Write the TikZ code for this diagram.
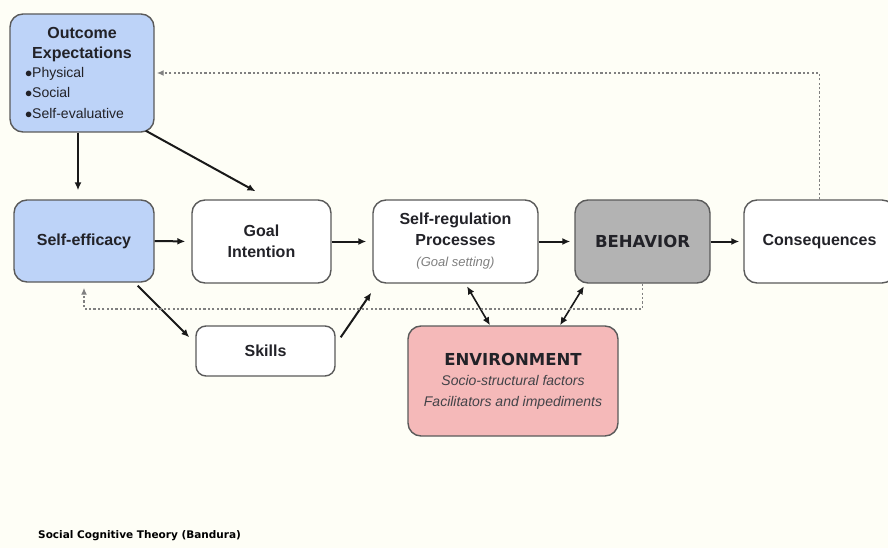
\documentclass[tikz,border=0pt]{standalone}
\usepackage{fontspec}
\setmainfont{Liberation Sans}
\newfontfamily\heavyfont{DejaVu Sans}
\usetikzlibrary{arrows.meta}
\definecolor{paper}{HTML}{FEFEF6}
\definecolor{boxblue}{HTML}{BDD3F8}
\definecolor{boxgray}{HTML}{B3B3B3}
\definecolor{boxpink}{HTML}{F5B9B9}
\definecolor{boxline}{HTML}{5A5A5A}
\definecolor{inkdark}{HTML}{222228}

\begin{document}
\begin{tikzpicture}[x=1pt,y=-1pt]
	\tikzstyle{box} = [draw=boxline, line width=1.4, rounded corners=13, fill=white, inner sep=0,
		align=center, text=inkdark, font=\fontsize{16}{21}\selectfont\bfseries]
	\tikzstyle{bluebox} = [box, fill=boxblue]
	\tikzstyle{arrow} = [draw=black!90, line width=2, -{Latex[length=8pt,width=7pt]}]
	\tikzstyle{twoway} = [draw=black!90, line width=1.6, {Latex[length=8pt,width=7pt]}-{Latex[length=8pt,width=7pt]}]
	\tikzstyle{loopback} = [draw=black!50, line width=1.8, dash pattern=on 2.2pt off 2.2pt, -{Latex[length=7pt,width=6pt]}]
	\fill[paper] (0,0) rectangle (888,548);
	\useasboundingbox (0,0) rectangle (888,548);
		\node[bluebox, minimum width=144, minimum height=118, text width=114, align=left] (outcome) at (82,73)
			{\makebox[\linewidth]{Outcome}\\[-1pt]\makebox[\linewidth]{Expectations}\\[-1pt]
			 \mdseries\fontsize{14}{20}\selectfont$\bullet$Physical\\$\bullet$Social\\$\bullet$Self-evaluative};
		\node[bluebox, minimum width=140, minimum height=82] (selfeff) at (84,241) {Self-efficacy};
		\node[box, minimum width=139, minimum height=83] (goal) at (261.5,241.5) {Goal\\Intention};
		\node[box, minimum width=165, minimum height=83] (selfreg) at (455.5,241.5)
			{Self-regulation\\Processes\\{\mdseries\itshape\color{gray}\fontsize{13}{16}\selectfont(Goal setting)}};
		\node[box, fill=boxgray, minimum width=135, minimum height=83, font=\fontsize{16.5}{20}\selectfont\heavyfont\bfseries] (behavior) at (642.5,241.5) {BEHAVIOR};
		\node[box, minimum width=151, minimum height=83] (conseq) at (819.5,241.5) {Consequences};
		\node[box, rounded corners=10, minimum width=139, minimum height=50] (skills) at (265.5,351) {Skills};
		\node[box, fill=boxpink, minimum width=210, minimum height=110, font=\fontsize{16.5}{21}\selectfont\heavyfont\bfseries] (env) at (513,381)
			{ENVIRONMENT\\[-1pt]{\normalfont\itshape\color{inkdark!85}\fontsize{14}{21}\selectfont Socio-structural factors}\\
			 {\normalfont\itshape\color{inkdark!85}\fontsize{14}{21}\selectfont Facilitators and impediments}};
		\node[anchor=base west, inner sep=0, text=black, font=\fontsize{10.5}{12}\selectfont\heavyfont\bfseries] (title) at (38,538)
			{Social Cognitive Theory (Bandura)};
	% forward paths
	\draw[arrow, shorten >=9] ([xshift=-4pt]outcome.south) -- ([xshift=-6pt]selfeff.north);
	\draw[arrow] ([shift={(-9pt,2pt)}]outcome.south east) -- ([shift={(-6pt,8pt)}]goal.north);
	\draw[arrow, shorten >=6] (selfeff.east) -- (goal.west);
	\draw[arrow, shorten >=6] (goal.east) -- (selfreg.west);
	\draw[arrow, shorten >=4] (selfreg.east) -- (behavior.west);
	\draw[arrow, shorten >=4] (behavior.east) -- (conseq.west);
	\draw[arrow] ([shift={(-17pt,-3pt)}]selfeff.south east) -- ([shift={(-6pt,-12pt)}]skills.north west);
	\draw[arrow] ([shift={(5pt,-12pt)}]skills.north east) -- ([shift={(-1pt,-9pt)}]selfreg.south west);
	% environment
	\draw[twoway, shorten <=3] ([xshift=10pt]selfreg.south) -- ([xshift=-23pt]env.north);
	\draw[twoway, shorten <=3] ([xshift=-57pt]behavior.south) -- ([xshift=47pt]env.north);
	% feedback loops
	\draw[loopback, shorten >=2] (conseq.north) |- (outcome.east);
	\draw[loopback, shorten >=5] (behavior.south) -- ++(0,25) -| (selfeff.south);
\end{tikzpicture}
\end{document}
